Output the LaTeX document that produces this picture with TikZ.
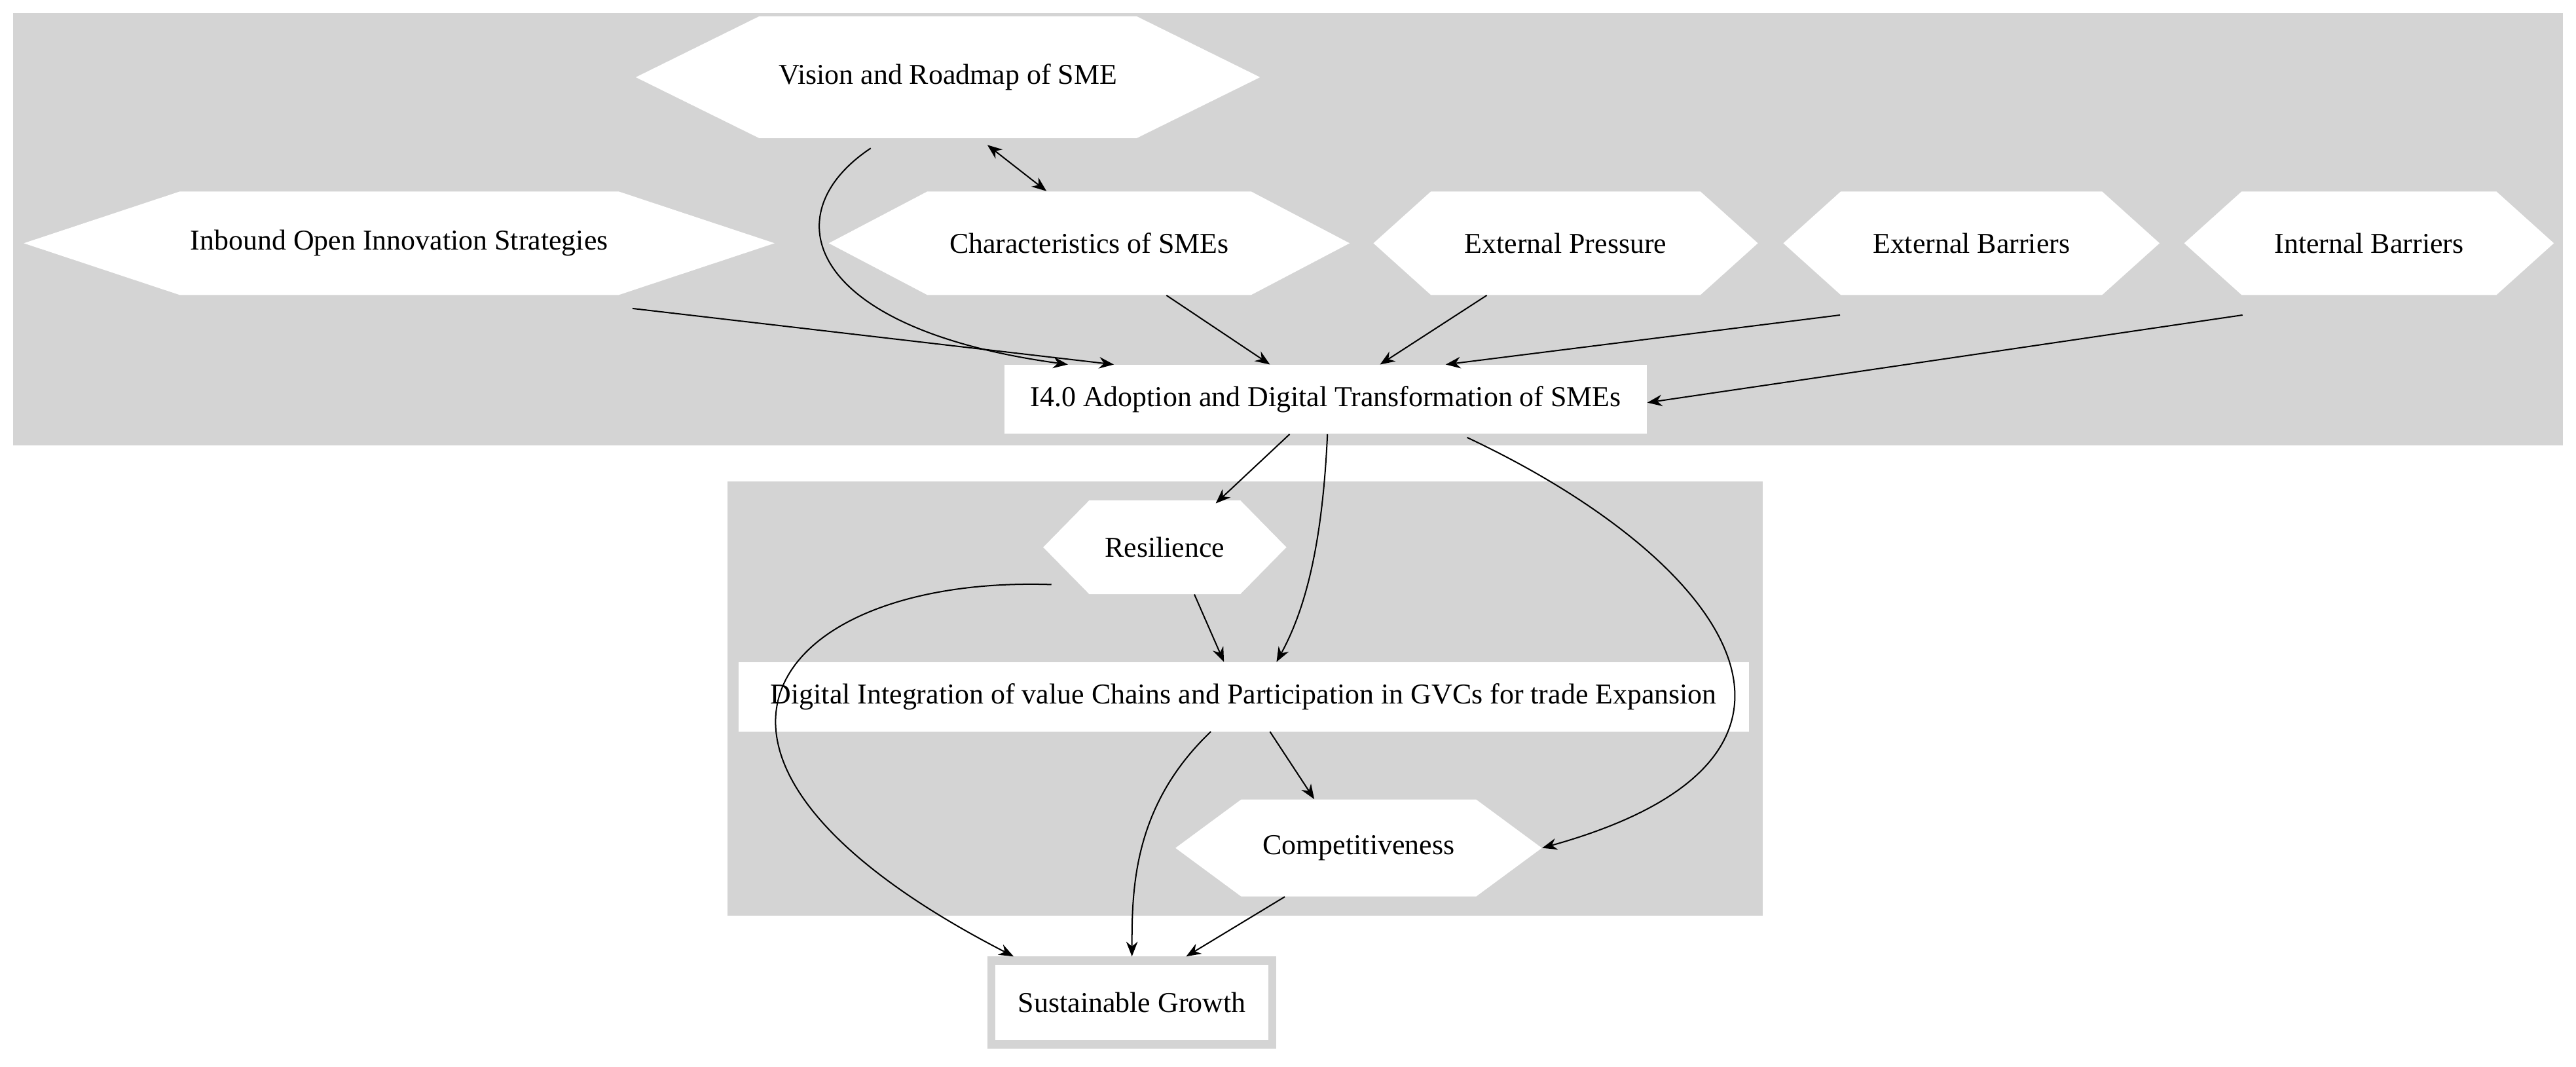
\documentclass[tikz,border=0pt]{standalone}
\usepackage{fontspec}
\setmainfont{Liberation Serif}
\usetikzlibrary{arrows.meta}
\newcommand{\hexnode}[7]{%
  \fill[white] ({#2-#4/2},#3) -- ({#2-#4/2+#6},{#3-#5/2}) -- ({#2+#4/2-#6},{#3-#5/2}) -- ({#2+#4/2},#3) -- ({#2+#4/2-#6},{#3+#5/2}) -- ({#2-#4/2+#6},{#3+#5/2}) -- cycle;
  \node[minimum width=#4pt, minimum height=#5pt, inner sep=0pt] (#1) at (#2,#3) {#7};}
\begin{document}
\begin{tikzpicture}[x=1pt,y=-1pt,font=\fontsize{17.5}{20}\selectfont,
  arr/.style={-{Stealth[length=9pt,width=7pt]},line width=0.8pt},
  box/.style={fill=white,minimum height=42pt,inner sep=0pt}]
\useasboundingbox (0,0) rectangle (1568,649);
\fill[white] (0,0) rectangle (1568,649);
\fill[black!17] (8,8) rectangle (1560,271);
\fill[black!17] (443,293) rectangle (1073,557);
\hexnode{vis}{577}{47}{380}{74}{75}{Vision and Roadmap of SME}
\hexnode{inb}{243}{148}{457}{63}{95}{Inbound Open Innovation Strategies}
\hexnode{cha}{663}{148}{317}{63}{60}{Characteristics of SMEs}
\hexnode{exp}{953}{148}{234}{63}{35}{External Pressure}
\hexnode{exb}{1200}{148}{229}{63}{35}{External Barriers}
\hexnode{inb2}{1442}{148}{225}{63}{35}{Internal Barriers}
\node[box,minimum width=391pt] (i40) at (807,243) {I4.0 Adoption and Digital Transformation of SMEs};
\hexnode{res}{709}{333}{148}{57}{28}{Resilience}
\node[box,minimum width=615pt] (dig) at (757,424) {Digital Integration of value Chains and Participation in GVCs for trade Expansion};
\hexnode{com}{827}{516}{223}{59}{40}{Competitiveness}
\node[fill=white,draw=black!17,line width=5pt,minimum width=171pt,minimum height=51pt,inner sep=0pt] (sus) at (689,610) {Sustainable Growth};
% edges
\draw[arr,{Stealth[length=9pt,width=7pt]}-{Stealth[length=9pt,width=7pt]}] ([xshift=24pt,yshift=-4pt]vis.south) -- ([xshift=-26pt]cha.north);
\draw[arr] ([xshift=-47pt,yshift=-6pt]vis.south) .. controls (470,130) and (490,200) .. ([xshift=-157pt]i40.north);
\draw[arr] ([xshift=142pt,yshift=-8pt]inb.south) -- ([xshift=-129pt]i40.north);
\draw[arr] ([xshift=47pt]cha.south) -- ([xshift=-34pt]i40.north);
\draw[arr] ([xshift=-48pt]exp.south) -- ([xshift=33pt]i40.north);
\draw[arr] ([xshift=-80pt,yshift=-12pt]exb.south) -- ([xshift=73pt]i40.north);
\draw[arr] ([xshift=-77pt,yshift=-12pt]inb2.south) -- ([yshift=-2pt]i40.east);
\draw[arr] ([xshift=-22pt]i40.south) -- ([xshift=31pt,yshift=-2pt]res.north);
\draw[arr] ([xshift=1pt]i40.south) .. controls (805,330) and (795,370) .. ([xshift=20pt]dig.north);
\draw[arr] ([xshift=86pt,yshift=-2pt]i40.south) .. controls (1050,340) and (1140,460) .. (com.east);
\draw[arr] ([xshift=18pt]res.south) -- ([xshift=-12pt]dig.north);
\draw[arr] ([xshift=-69pt,yshift=6pt]res.south) .. controls (470,350) and (380,460) .. ([xshift=-72pt]sus.north);
\draw[arr] ([xshift=16pt]dig.south) -- ([xshift=-27pt]com.north);
\draw[arr] ([xshift=-20pt]dig.south) .. controls (690,490) and (689,540) .. (sus.north);
\draw[arr] ([xshift=-45pt]com.south) -- ([xshift=33pt]sus.north);
\end{tikzpicture}
\end{document}
